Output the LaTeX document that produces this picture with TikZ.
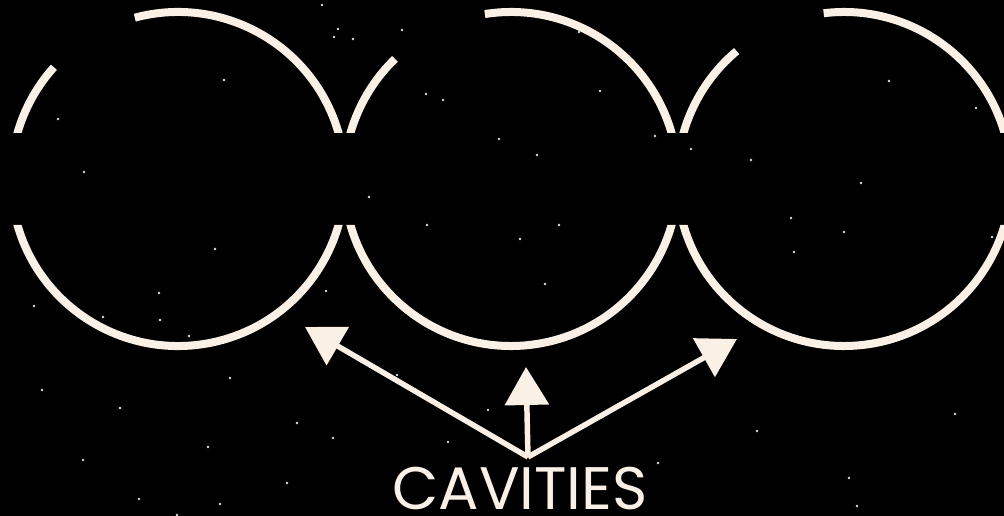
\documentclass[tikz,border=0pt]{standalone}
\usepackage{fontspec}
\setmainfont{Poppins}
\usetikzlibrary{arrows.meta}
\definecolor{cream}{RGB}{250,240,230}
\definecolor{stargrey}{RGB}{220,220,220}
\tikzset{
  ring/.style={draw=cream, line width=6pt, line cap=butt},
  pointer/.style={draw=cream, line width=4.1pt, line cap=butt,
    -{Triangle[length=28.5pt, width=32.5pt]}},
  star/.style={fill=stargrey, draw=none},
  label/.style={text=cream, inner sep=0pt, text depth=0pt, font=\fontsize{45}{50}\selectfont}
}
\begin{document}
\begin{tikzpicture}[x=0.75pt, y=-0.75pt]
\fill[black] (0,0) rectangle (1004,516);
\useasboundingbox (0,0) rectangle (1004,516);
% rings, clipped to leave the horizontal band open
\begin{scope}
  \clip (0,0) rectangle (1004,133) (0,225) rectangle (1004,516);
  \draw[ring] (178,179) ++(-105:167) arc[start angle=-105, end angle=222, radius=167];
  \draw[ring] (511,179) ++(-99:167) arc[start angle=-99, end angle=226, radius=167];
  \draw[ring] (844,179) ++(-97:167) arc[start angle=-97, end angle=230, radius=167];
\end{scope}
% stars
\foreach \p in {(322,5),(338,29),(334,37),(353,39),(402,30),(224,80),(58,119),(84,172),
  (426,94),(443,100),(499,139),(369,197),(427,225),(215,249),(600,91),(655,136),(691,149),
  (751,160),(537,155),(889,81),(976,108),(861,183),(791,218),(844,232),(794,252),(559,225),
  (520,239),(992,237),(579,32),(159,293),(160,320),(34,306),(326,291),(189,336),(103,317),
  (230,378),(42,390),(120,408),(297,423),(333,438),(208,447),(83,460),(287,483),(139,499),
  (220,504),(177,515),(448,442),(488,410),(397,375),(545,284),(757,431),(955,414),(849,478),
  (857,506),(658,463)}
  \fill[star] \p circle[radius=1.4];
% arrows
\coordinate (v) at (528,457);
\coordinate (t1) at (305,327);
\coordinate (t2) at (526,367);
\coordinate (t3) at (737,339);
\draw[pointer] (v) -- (t1);
\draw[pointer] (v) -- (t2);
\draw[pointer] (v) -- (t3);
\node[label, anchor=base] (cav) at (520,510) {CAVITIES};
\end{tikzpicture}
\end{document}
